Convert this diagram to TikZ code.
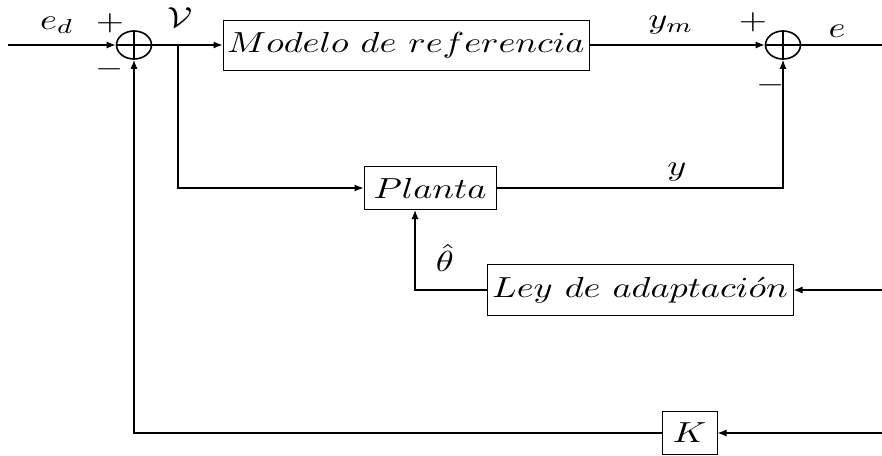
\documentclass[tikz,border=0pt]{standalone}
\usepackage{graphicx}
\usetikzlibrary{shapes.geometric,arrows.meta}
\newcommand{\st}[1]{\scalebox{3.625}[2.9]{$#1$}}
\begin{document}
\begin{tikzpicture}[x=1pt,y=-1pt,
  blk/.style={draw,line width=1pt,rectangle,inner sep=0pt},
  sumnode/.style={draw,ellipse,line width=1.6pt,minimum width=35pt,minimum height=28pt,inner sep=0pt},
  wire/.style={line width=1.2pt},
  arr/.style={wire,-{Latex[length=9pt,width=7pt]}},
  lab/.style={inner sep=0pt}]
\useasboundingbox (0,0) rectangle (882,455);
% blocks
\node[sumnode] (s1) at (134,45) {};
\node[sumnode] (s2) at (783,45) {};
\draw[line width=1.4pt] (s1.north) -- (s1.south) (s1.west) -- (s1.east);
\draw[line width=1.4pt] (s2.north) -- (s2.south) (s2.west) -- (s2.east);
\node[blk,minimum width=366pt,minimum height=50pt] (mod) at (406,45) {\st{Modelo\ de\ referencia}};
\node[blk,minimum width=132pt,minimum height=43pt] (pla) at (430,188) {\st{Planta}};
\node[blk,minimum width=306pt,minimum height=51pt] (ley) at (640,290) {\st{Ley\ de\ adaptaci\acute{o}n}};
\node[blk,minimum width=55pt,minimum height=43pt] (K) at (689.5,433) {\st{K}};
% coordinates
\coordinate (in) at (8,45);
\coordinate (out) at (882,45);
\coordinate (v) at (178,45);
\coordinate (rl) at (882,290);
\coordinate (rk) at (882,433);
\coordinate (th) at (415,290);
% connectors
\draw[arr] (in) -- (s1.west);
\draw[arr] (s1.east) -- (mod.west);
\draw[arr] (mod.east) -- (s2.west);
\draw[wire] (s2.east) -- (out);
\draw[arr] (v) |- (pla.west);
\draw[arr] (pla.east) -| (s2.south);
\draw[arr] (rl) -- (ley.east);
\draw[arr] (ley.west) -- (th) -- (th |- pla.south);
\draw[arr] (rk) -- (K.east);
\draw[arr] (K.west) -| (s1.south);
% labels
\node[lab] (led) at (57,25) {\st{e_d}};
\node[lab] (lp1) at (110,23) {\st{+}};
\node[lab] (lm1) at (110,69) {\st{-}};
\node[lab] (lv) at (180,18) {\st{\mathcal{V}}};
\node[lab] (lym) at (671,25) {\st{y_m}};
\node[lab] (lp2) at (753,22) {\st{+}};
\node[lab] (le) at (837,31) {\st{e}};
\node[lab] (lm2) at (771,85) {\st{-}};
\node[lab] (ly) at (677,172) {\st{y}};
\node[lab] (lth) at (445,258) {\st{\hat{\theta}}};
\end{tikzpicture}
\end{document}
